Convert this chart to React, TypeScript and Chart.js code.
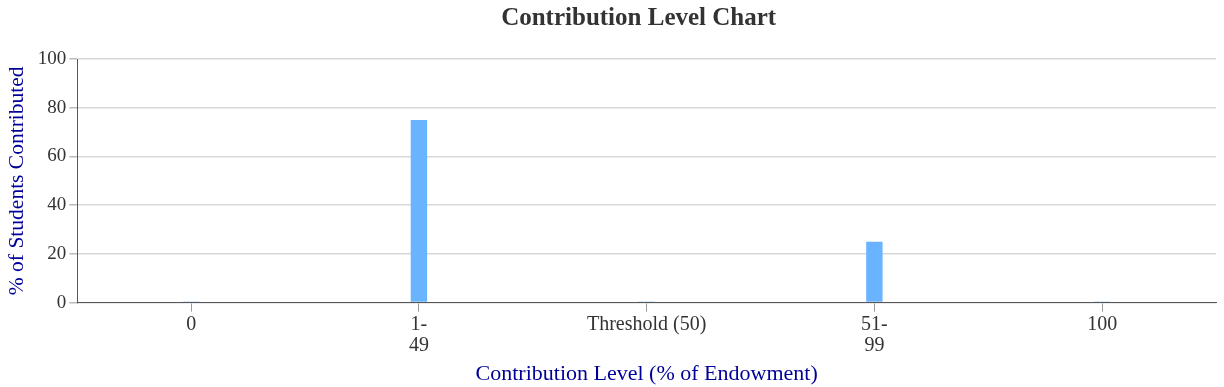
import React, { useEffect, useRef } from "react";
import { Chart, registerables } from "chart.js";

Chart.register(...registerables);

const categories: (string | string[])[] = ["0", ["1-", "49"], "Threshold (50)", ["51-", "99"], "100"];
const percentContributed: number[] = [0, 75, 0, 25, 0];
const yTicks = { min: 0, max: 100, step: 20 };

const TITLE = "Contribution Level Chart";
const Y_TITLE = "% of Students Contributed";
const X_TITLE = "Contribution Level (% of Endowment)";

const FONT = "'Liberation Serif', 'Times New Roman', serif";

const titlePlugin = {
  id: "offsetTitle",
  afterDraw(chart: any) {
    const { ctx, chartArea } = chart;
    ctx.save();
    ctx.font = `bold 25px ${FONT}`;
    ctx.fillStyle = "#333333";
    ctx.textAlign = "center";
    ctx.textBaseline = "middle";
    const cx = (chartArea.left + chartArea.right) / 2 - 8;
    ctx.fillText(TITLE, cx, 19);
    ctx.restore();
  },
};

export default function App() {
  const ref = useRef<HTMLCanvasElement | null>(null);
  useEffect(() => {
    document.body.style.margin = "0";
    const ctx = ref.current!;
    const chart = new Chart(ctx, {
      type: "bar",
      data: {
        labels: categories as any,
        datasets: [
          {
            data: percentContributed,
            backgroundColor: "#6ab4ff",
            borderWidth: 0,
            categoryPercentage: 1,
            barPercentage: 0.072,
            minBarLength: 1,
          },
        ],
      },
      plugins: [titlePlugin],
      options: {
        animation: false,
        responsive: false,
        maintainAspectRatio: false,
        layout: { padding: { left: 4, right: 8, top: 59, bottom: 0 } },
        plugins: {
          legend: { display: false },
          tooltip: { enabled: false },
          title: { display: false },
        },
        scales: {
          x: {
            offset: true,
            grid: {
              offset: false,
              drawOnChartArea: false,
              drawTicks: true,
              tickLength: 9,
              tickColor: "#999999",
            },
            border: { display: true, color: "#555555", width: 1 },
            ticks: {
              color: "#333333",
              font: { family: FONT, size: 20, lineHeight: 1.05 },
              padding: 3,
              maxRotation: 0,
              autoSkip: false,
            },
            title: {
              display: true,
              text: X_TITLE,
              color: "#000099",
              font: { family: FONT, size: 22 },
              padding: { top: 1, bottom: 0 },
            },
          },
          y: {
            min: yTicks.min,
            max: yTicks.max,
            ticks: {
              stepSize: yTicks.step,
              color: "#333333",
              font: { family: FONT, size: 19 },
              padding: 3,
            },
            grid: {
              color: "#d8d8d8",
              lineWidth: 1.5,
              drawTicks: true,
              tickLength: 8,
              tickColor: "#bbbbbb",
            },
            border: { display: true, color: "#555555", width: 1 },
            title: {
              display: true,
              text: Y_TITLE,
              color: "#000099",
              font: { family: FONT, size: 21.5 },
              padding: { top: 0, bottom: 5 },
            },
          },
        },
      },
    });
    return () => chart.destroy();
  }, []);
  return (
    <div style={{ width: 1224, height: 387 }}>
      <canvas ref={ref} width={1224} height={387} style={{ display: "block" }} />
    </div>
  );
}
